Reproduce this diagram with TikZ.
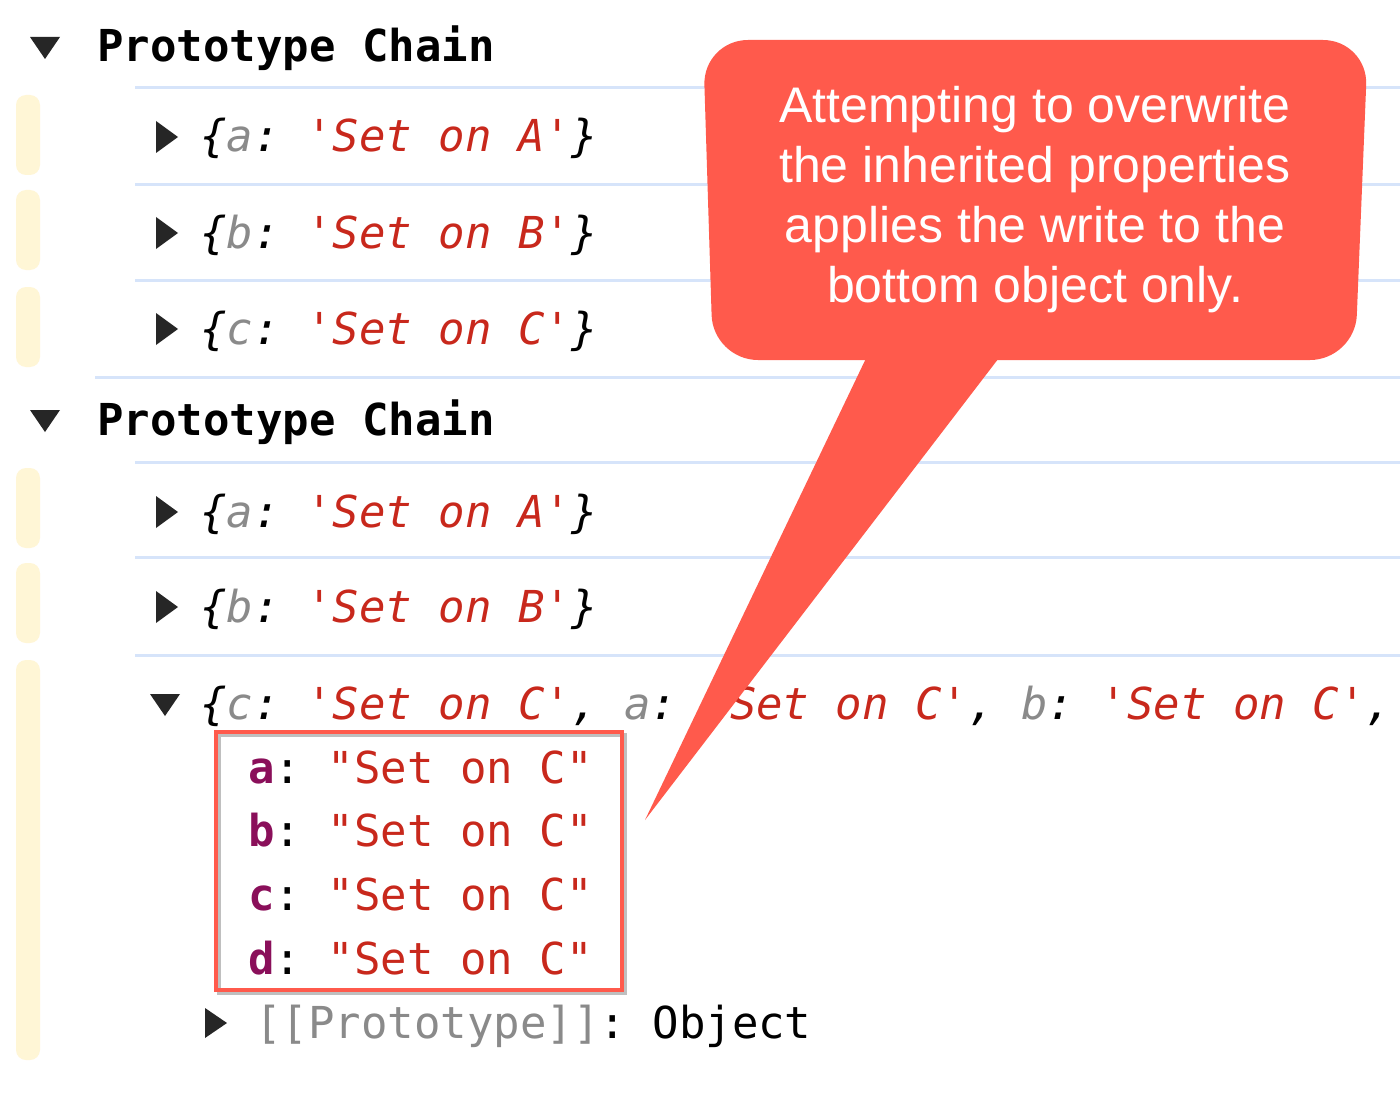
\documentclass[tikz,border=0pt]{standalone}
\usepackage{fontspec}
\setmonofont{DejaVu Sans Mono}
\newfontfamily\callfont{Liberation Sans}
\definecolor{sep}{HTML}{D6E4FA}
\definecolor{bar}{HTML}{FFF6D6}
\definecolor{keyg}{HTML}{8A8A8A}
\definecolor{strr}{HTML}{C8281C}
\definecolor{keyp}{HTML}{8A0F5A}
\definecolor{callred}{HTML}{FF5A4C}
\tikzset{
  mono/.style={anchor=base west,inner sep=0,font=\ttfamily\fontsize{44}{48}\selectfont},
  sepline/.style={sep,line width=3pt},
  ybar/.style={fill=bar,rounded corners=10pt,draw=none},
  tri/.style={fill=black!85,draw=none},
}
\newcommand{\K}[1]{\textcolor{keyg}{\itshape #1}}
\newcommand{\Sg}[1]{\textcolor{strr}{\itshape #1}}
\begin{document}
\begin{tikzpicture}[x=1pt,y=-1pt]
\useasboundingbox[fill=white] (0,0) rectangle (1400,1094);
% separators
\foreach \y in {88,185,280,462,557,655} \draw[sepline] (135,\y) -- (1400,\y);
\draw[sepline] (95,377) -- (1400,377);
% yellow bars
\foreach \a/\b in {95/175,190/270,287/367,468/548,563/643,660/1060}
  \fill[ybar] (16,\a) rectangle (40,\b);
% headers
\foreach \y [count=\i] in {47,420}{
  \fill[tri] (30,\y-10) -- (60,\y-10) -- (45,\y+12) -- cycle;
  \node[mono,font=\ttfamily\bfseries\fontsize{44}{48}\selectfont] (h\i) at (97,\y+15) {Prototype Chain};
}
% items
\foreach \y/\k/\c [count=\i] in {137/a/A,233/b/B,329/c/C,512/a/A,607/b/B}{
  \fill[tri] (156,\y-16) -- (156,\y+16) -- (178,\y) -- cycle;
  \node[mono] (it\i) at (200,\y+15) {\textit{\{}\K{\k}\textit{:} \Sg{'Set on \c'}\textit{\}}};
}
% expanded
\fill[tri] (150,694) -- (180,694) -- (165,716) -- cycle;
\node[mono] (exp) at (200,719) {\textit{\{}\K{c}\textit{:} \Sg{'Set on C'}\textit{,} \K{a}\textit{:} \Sg{'Set on C'}\textit{,} \K{b}\textit{:} \Sg{'Set on C'}\textit{,}};
\foreach \y/\k [count=\i] in {768/a,831/b,895/c,959/d}
  \node[mono] (p\i) at (248,\y+15) {\textcolor{keyp}{\bfseries \k}: \textcolor{strr}{"Set on C"}};
\fill[tri] (205,1008) -- (205,1038) -- (227,1023) -- cycle;
\node[mono] (proto) at (255,1038) {\textcolor{keyg}{[[Prototype]]}: Object};
% red box
\draw[black!25,line width=4pt] (219,735) rectangle (625,993);
\draw[callred,line width=4pt] (216,732) rectangle (622,990);
% callout
\fill[callred] (870,350) -- (645,820) -- (1005,350) -- cycle;
\fill[callred,rounded corners=45pt] (703,40) -- (1368,40) -- (1355,360) -- (713,360) -- cycle;
\node[align=center,text=white,font=\callfont\fontsize{50}{60}\selectfont,inner sep=0] (call) at (1035,200)
  {Attempting to overwrite\\the inherited properties\\applies the write to the\\bottom object only.};
\end{tikzpicture}
\end{document}
